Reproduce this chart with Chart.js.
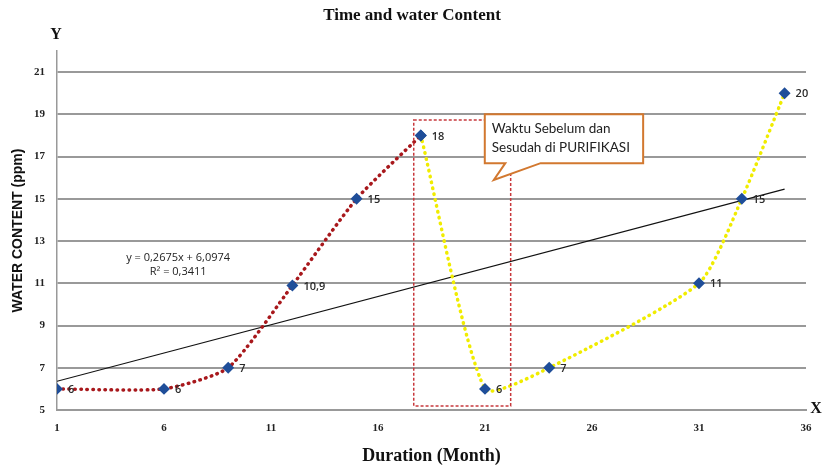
<!DOCTYPE html>
<html><head><meta charset="utf-8">
<script src="https://cdn.jsdelivr.net/npm/chart.js@4"></script>
<style>html,body{margin:0;padding:0;background:#fff}#wrap{width:825px;height:465px}</style>
</head><body><div id="wrap"><canvas id="c" width="825" height="465"></canvas></div>
<script>
const beforeX = [1, 6, 9, 12, 15, 18];
const beforeY = [6, 6, 7, 10.9, 15, 18];
const beforeLabels = ['6', '6', '7', '10,9', '15', '18'];
const afterX = [18, 21, 24, 31, 33, 35];
const afterY = [18, 6, 7, 11, 15, 20];
const afterLabels = ['', '6', '7', '11', '15', '20'];
const trendX = [1, 35];
const trendY = [6.36, 15.46];
const xTicks = [1, 6, 11, 16, 21, 26, 31, 36];
const yTicks = [5, 7, 9, 11, 13, 15, 17, 19, 21];
const equationLines = ['y = 0,2675x + 6,0974', 'R\u00B2 = 0,3411'];
const calloutLines = ['Waktu Sebelum dan', 'Sesudah di PURIFIKASI'];

const toPts = (xs, ys) => xs.map((x, i) => ({x: x, y: ys[i]}));

const deco = {
  id: 'deco',
  afterDatasetsDraw(chart) {
    const ctx = chart.ctx;
    const xs = chart.scales.x, ys = chart.scales.y;
    const px = v => xs.getPixelForValue(v), py = v => ys.getPixelForValue(v);
    ctx.save();
    // dashed rectangle
    ctx.strokeStyle = '#c8383c';
    ctx.lineWidth = 1.5;
    ctx.setLineDash([3, 2]);
    ctx.strokeRect(px(17.67), py(18.73), px(22.2) - px(17.67), py(5.19) - py(18.73));
    ctx.setLineDash([]);
    // callout
    ctx.beginPath();
    ctx.moveTo(px(20.99), py(19.01));
    ctx.lineTo(px(28.39), py(19.01));
    ctx.lineTo(px(28.39), py(16.69));
    ctx.lineTo(px(23.6), py(16.69));
    ctx.lineTo(px(21.41), py(15.89));
    ctx.lineTo(px(21.95), py(16.69));
    ctx.lineTo(px(20.99), py(16.69));
    ctx.closePath();
    ctx.fillStyle = '#fff';
    ctx.fill();
    ctx.strokeStyle = '#d2782f';
    ctx.lineWidth = 2;
    ctx.stroke();
    ctx.fillStyle = '#222';
    ctx.font = '13.5px Lato';
    ctx.textAlign = 'left';
    ctx.textBaseline = 'middle';
    ctx.fillText(calloutLines[0], px(20.99) + 7, py(19.01) + 14);
    ctx.fillText(calloutLines[1], px(20.99) + 7, py(19.01) + 33);
    // equation
    ctx.font = '11px "Open Sans"';
    ctx.textAlign = 'center';
    ctx.fillStyle = '#222';
    ctx.fillText(equationLines[0], px(6.66), py(12.2));
    ctx.fillText(equationLines[1], px(6.66), py(11.53));
    // point labels
    ctx.font = '600 11px "Open Sans"';
    ctx.textAlign = 'left';
    ctx.fillStyle = '#2a2a2a';
    [[0, beforeLabels], [1, afterLabels]].forEach(([di, labs]) => {
      chart.getDatasetMeta(di).data.forEach((el, i) => {
        if (labs[i]) ctx.fillText(labs[i], el.x + 11, el.y + 1);
      });
    });
    // title and axis letters
    ctx.fillStyle = '#111';
    ctx.font = 'bold 17px "Liberation Serif"';
    ctx.textAlign = 'center';
    ctx.fillText('Time and water Content', 412, 16);
    ctx.font = 'bold 16px "Liberation Serif"';
    ctx.fillText('Y', 56, 35);
    ctx.fillText('X', 816, 409);
    ctx.restore();
  }
};

new Chart(document.getElementById('c'), {
  type: 'scatter',
  data: {
    datasets: [
      {data: toPts(beforeX, beforeY), showLine: true, borderColor: '#a8181c', borderWidth: 3.5,
       borderDash: [0.5, 5.5], borderCapStyle: 'round', tension: 0.2, pointStyle: 'rectRot',
       pointRadius: 3.5, pointBackgroundColor: '#1f4e99', pointBorderColor: '#1f4e99', order: 1},
      {data: toPts(afterX, afterY), showLine: true, borderColor: '#f0ec00', borderWidth: 3.5,
       borderDash: [0.5, 5.5], borderCapStyle: 'round', tension: 0.2, pointStyle: 'rectRot',
       pointRadius: 3.5, pointBackgroundColor: '#1f4e99', pointBorderColor: '#1f4e99', order: 2},
      {data: toPts(trendX, trendY), showLine: true, borderColor: '#111', borderWidth: 1.2,
       pointRadius: 0, order: 3}
    ]
  },
  options: {
    responsive: false,
    animation: false,
    layout: {padding: {top: 51, right: 19, left: 0, bottom: 0}},
    plugins: {legend: {display: false}, title: {display: false}, tooltip: {enabled: false}},
    scales: {
      x: {
        type: 'linear', min: 1, max: 36,
        afterBuildTicks: s => { s.ticks = xTicks.map(v => ({value: v})); },
        afterFit: s => { s.height = 55; },
        grid: {display: false},
        border: {color: '#999', width: 2},
        ticks: {color: '#222', padding: 4, font: {family: 'Liberation Serif', weight: 'bold', size: 11}},
        title: {display: true, text: 'Duration (Month)', color: '#111', padding: {top: 0, bottom: 0},
                font: {family: 'Liberation Serif', weight: 'bold', size: 18, lineHeight: 1}}
      },
      y: {
        type: 'linear', min: 5, max: 22,
        afterBuildTicks: s => { s.ticks = yTicks.map(v => ({value: v})); },
        afterFit: s => { s.width = 57; },
        grid: {color: '#999', lineWidth: 2, drawTicks: false},
        border: {color: '#999', width: 1.5},
        ticks: {color: '#222', padding: 12, font: {family: 'Liberation Serif', weight: 'bold', size: 11}},
        title: {display: true, text: 'WATER CONTENT (ppm)', color: '#111', padding: {top: 10, bottom: 0},
                font: {family: 'Liberation Sans', weight: 'bold', size: 14}}
      }
    }
  },
  plugins: [deco]
});
</script></body></html>
